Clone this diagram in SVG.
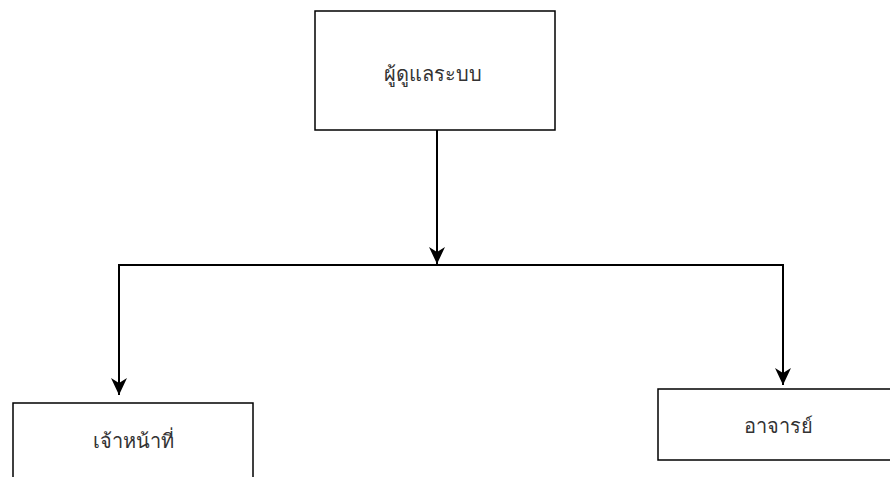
<svg xmlns="http://www.w3.org/2000/svg" width="890" height="477" viewBox="0 0 890 477">
<style>
.box{fill:#fff;stroke:#000;stroke-width:1.5}
.lbl{font-family:"Noto Sans","DejaVu Sans",sans-serif;font-size:20px;fill:#333;text-anchor:middle;dominant-baseline:central}
.con{fill:none;stroke:#000;stroke-width:2}
</style>
<defs>
<marker id="arr" viewBox="0 0 17 16" refX="17" refY="8" markerWidth="17" markerHeight="16" markerUnits="userSpaceOnUse" orient="auto">
<path d="M0,0 L5,8 L0,16 L17,8 Z" fill="#000"/>
</marker>
</defs>
<rect width="890" height="477" fill="#fff"/>
<g id="connectors">
<path class="con" d="M437,130 V264" marker-end="url(#arr)"/>
<path class="con" d="M437,265 H119 V395" marker-end="url(#arr)"/>
<path class="con" d="M437,265 H783 V385" marker-end="url(#arr)"/>
</g>
<g id="admin">
<rect class="box" x="315" y="11" width="240" height="119"/>
<text class="lbl" x="433" y="73">ผู้ดูแลระบบ</text>
</g>
<g id="staff">
<rect class="box" x="13" y="403" width="240" height="90"/>
<text class="lbl" x="133" y="440">เจ้าหน้าที่</text>
</g>
<g id="teacher">
<rect class="box" x="658" y="389" width="240" height="71"/>
<text class="lbl" x="778" y="425">อาจารย์</text>
</g>
</svg>
